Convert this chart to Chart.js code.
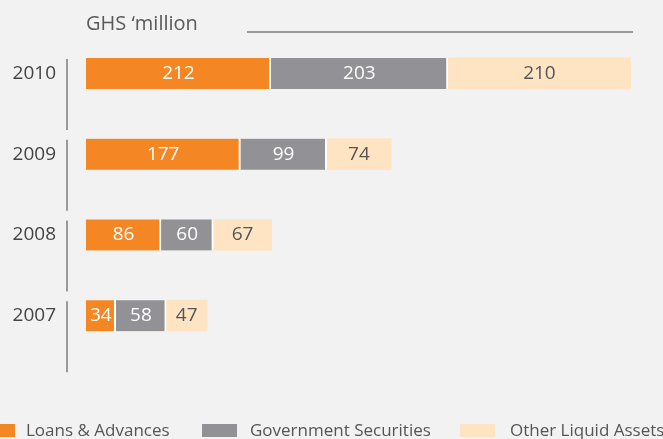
<!DOCTYPE html>
<html>
<head>
<meta charset="utf-8">
<script src="https://cdn.jsdelivr.net/npm/chart.js@4"></script>
<style>
  html, body { margin: 0; padding: 0; background: #f2f2f2; overflow: hidden; }
  #wrap { position: relative; width: 663px; height: 439px; font-family: "Open Sans", sans-serif; }
  #chart { display: block; }
  #title { position: absolute; left: 86px; top: 9px; font-size: 20px; color: #5a5a5a; }
  #rule { position: absolute; left: 247px; top: 31px; width: 386px; height: 0; border-top: 2px solid #9a9a9a; }
  .key { position: absolute; top: 424px; width: 35px; height: 13px; }
  .lbl { position: absolute; top: 418px; font-size: 17px; color: #555; white-space: nowrap; }
</style>
</head>
<body>
<div id="wrap">
  <canvas id="chart" width="663" height="439"></canvas>
  <div id="title">GHS ‘million</div>
  <div id="rule"></div>
  <div class="key" style="left:-20px;background:#f58624"></div>
  <div class="lbl" style="left:26px">Loans &amp; Advances</div>
  <div class="key" style="left:202px;background:#929195"></div>
  <div class="lbl" style="left:250px">Government Securities</div>
  <div class="key" style="left:460px;background:#ffe4c4"></div>
  <div class="lbl" style="left:510px">Other Liquid Assets</div>
</div>
<script>
document.addEventListener('DOMContentLoaded', () => {
    const years = ['2010', '2009', '2008', '2007'];
    const loans = [212, 177, 86, 34];
    const securities = [203, 99, 60, 58];
    const otherAssets = [210, 74, 67, 47];

    const colors = ['#f58624', '#929195', '#ffe4c4'];
    const textColors = ['#ffffff', '#ffffff', '#555555'];

    // value labels inside the bars + vertical marker line per year
    const barDecor = {
        id: 'barDecor',
        afterDatasetsDraw(chart) {
            const ctx = chart.ctx;
            ctx.save();
            const first = chart.getDatasetMeta(0);
            ctx.strokeStyle = '#9a9a9a';
            ctx.lineWidth = 2;
            first.data.forEach(bar => {
                const top = bar.y - bar.height / 2;
                ctx.beginPath();
                ctx.moveTo(67, top + 1);
                ctx.lineTo(67, top + 72);
                ctx.stroke();
            });
            ctx.font = '19px "Open Sans", sans-serif';
            ctx.textAlign = 'center';
            ctx.textBaseline = 'middle';
            chart.data.datasets.forEach((ds, i) => {
                const meta = chart.getDatasetMeta(i);
                meta.data.forEach((bar, j) => {
                    ctx.fillStyle = textColors[i];
                    ctx.fillText(ds.data[j], (bar.x + bar.base) / 2, bar.y);
                });
            });
            ctx.restore();
        }
    };

    const base = { borderColor: '#ffffff', borderSkipped: false, barThickness: 31 };

    new Chart(document.getElementById('chart'), {
        type: 'bar',
        data: {
            labels: years,
            datasets: [
                Object.assign({ label: 'Loans & Advances', data: loans, backgroundColor: colors[0], borderWidth: { right: 2 } }, base),
                Object.assign({ label: 'Government Securities', data: securities, backgroundColor: colors[1], borderWidth: { right: 2 } }, base),
                Object.assign({ label: 'Other Liquid Assets', data: otherAssets, backgroundColor: colors[2], borderWidth: 0 }, base)
            ]
        },
        options: {
            indexAxis: 'y',
            responsive: false,
            animation: false,
            layout: { padding: { left: 0, right: 32, top: 33, bottom: 83 } },
            plugins: {
                legend: { display: false },
                tooltip: { enabled: false }
            },
            scales: {
                x: { stacked: true, min: 0, max: 625, display: false },
                y: {
                    stacked: true,
                    // tickLength pushes the year labels left without adding vertical padding
                    grid: { display: false, drawTicks: true, tickLength: 30 },
                    border: { display: false },
                    ticks: {
                        padding: 0,
                        color: '#444',
                        font: { family: '"Open Sans", sans-serif', size: 19 }
                    },
                    afterFit(scale) { scale.width = 86; }
                }
            }
        },
        plugins: [barDecor]
    });
});
</script>
</body>
</html>
